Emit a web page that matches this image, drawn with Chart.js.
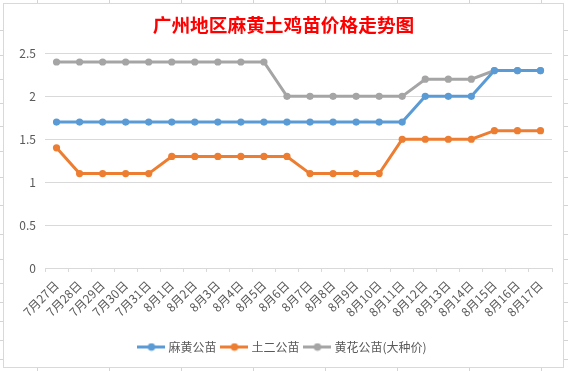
<!DOCTYPE html>
<html>
<head>
<meta charset="utf-8">
<script src="https://cdn.jsdelivr.net/npm/chart.js@4"></script>
<style>
  html, body { margin: 0; padding: 0; background: #fff; }
  body { width: 568px; height: 371px; position: relative; overflow: hidden; }
  .vl { position: absolute; top: 0; width: 1px; height: 371px; background: #d4d4d4; }
  .hl { position: absolute; left: 0; width: 568px; height: 1px; background: #d4d4d4; }
  #box { position: absolute; left: 3px; top: 3px; width: 561px; height: 365px; box-sizing: border-box;
         border: 1px solid #d9d9d9; background: #fff; }
  #box canvas { display: block; }
</style>
</head>
<body>
<div id="box"><canvas id="c" width="559" height="363"></canvas></div>
<script>
const categories = ["7月27日","7月28日","7月29日","7月30日","7月31日","8月1日","8月2日","8月3日","8月4日","8月5日","8月6日","8月7日","8月8日","8月9日","8月10日","8月11日","8月12日","8月13日","8月14日","8月15日","8月16日","8月17日"];
const mahuangValues = [1.7,1.7,1.7,1.7,1.7,1.7,1.7,1.7,1.7,1.7,1.7,1.7,1.7,1.7,1.7,1.7,2.0,2.0,2.0,2.3,2.3,2.3];
const tuerValues    = [1.4,1.1,1.1,1.1,1.1,1.3,1.3,1.3,1.3,1.3,1.3,1.1,1.1,1.1,1.1,1.5,1.5,1.5,1.5,1.6,1.6,1.6];
const huangValues   = [2.4,2.4,2.4,2.4,2.4,2.4,2.4,2.4,2.4,2.4,2.0,2.0,2.0,2.0,2.0,2.0,2.2,2.2,2.2,2.3,2.3,2.3];
const seriesNames = ["麻黄公苗","土二公苗","黄花公苗(大种价)"];
const yTickLabels = ["0","0.5","1","1.5","2","2.5"];
const titleText = "广州地区麻黄土鸡苗价格走势图";

// spreadsheet grid decoration behind the chart
const colLines = [37, 109, 181, 253, 325, 397, 469, 541];
const rowLines = [30, 55, 79, 103, 126, 151, 177, 205, 234, 259, 283, 302, 321, 340, 359];
colLines.forEach(x => { const d = document.createElement('div'); d.className = 'vl'; d.style.left = x + 'px'; document.body.insertBefore(d, document.body.firstChild); });
rowLines.forEach(y => { const d = document.createElement('div'); d.className = 'hl'; d.style.top = y + 'px'; document.body.insertBefore(d, document.body.firstChild); });

const colors = ['#5B9BD5', '#ED7D31', '#A5A5A5'];

function legendIcon(color) {
  const cv = document.createElement('canvas');
  cv.width = 28; cv.height = 9;
  const g = cv.getContext('2d');
  g.strokeStyle = color; g.lineWidth = 3;
  g.beginPath(); g.moveTo(0, 4.5); g.lineTo(28, 4.5); g.stroke();
  g.fillStyle = color;
  g.beginPath(); g.arc(14, 4.5, 3.8, 0, Math.PI * 2); g.fill();
  return cv;
}

const valueSets = [mahuangValues, tuerValues, huangValues];
const datasets = valueSets.map((vals, i) => ({
  label: seriesNames[i],
  data: vals,
  borderColor: colors[i],
  backgroundColor: colors[i],
  borderWidth: 3,
  pointRadius: 3.6,
  pointBorderWidth: 0,
  pointBackgroundColor: colors[i],
  pointStyle: 'circle',
  tension: 0,
  fill: false
}));
const icons = colors.map(legendIcon);

const FONT = "'Noto Sans CJK SC', 'Noto Sans', sans-serif";

new Chart(document.getElementById('c'), {
  type: 'line',
  data: { labels: categories, datasets },
  options: {
    responsive: false,
    animation: false,
    devicePixelRatio: 1,
    layout: { padding: { left: 0, right: 0, top: 0, bottom: 4 } },
    plugins: {
      title: {
        display: true,
        text: titleText,
        color: '#FF0000',
        font: { family: FONT, size: 18.7, weight: 'bold' },
        padding: { top: 10, bottom: 17 }
      },
      legend: {
        display: true,
        position: 'bottom',
        labels: {
          color: '#595959',
          font: { family: FONT, size: 12 },
          usePointStyle: true,
          pointStyleWidth: 22,
          boxHeight: 12,
          padding: 7,
          generateLabels: (chart) => chart.data.datasets.map((ds, i) => ({
            text: ds.label,
            fillStyle: colors[i],
            strokeStyle: colors[i],
            lineWidth: 0,
            pointStyle: icons[i],
            hidden: false,
            datasetIndex: i,
            fontColor: '#595959'
          }))
        }
      },
      tooltip: { enabled: false }
    },
    scales: {
      x: {
        type: 'category',
        offset: true,
        grid: { display: true, offset: true, drawOnChartArea: false, drawTicks: true, tickLength: 4, color: '#D9D9D9', lineWidth: 1 },
        border: { display: true, color: '#D9D9D9', width: 1 },
        ticks: {
          color: '#595959',
          font: { family: FONT, size: 12 },
          minRotation: 45, maxRotation: 45,
          autoSkip: false,
          padding: 6
        },
        afterFit: (s) => { s.height = 66; }
      },
      y: {
        min: 0, max: 2.5,
        border: { display: false },
        grid: { color: '#D9D9D9', lineWidth: 1, drawTicks: false },
        ticks: {
          stepSize: 0.5,
          color: '#595959',
          font: { family: FONT, size: 12 },
          padding: 9,
          callback: (v, idx) => yTickLabels[idx]
        },
        afterFit: (s) => { s.width = 41; }
      },
      yPad: {
        position: 'right',
        display: true,
        min: 0, max: 2.5,
        border: { display: false },
        grid: { display: false, drawTicks: false },
        ticks: { display: false },
        afterFit: (s) => { s.width = 11; }
      }
    }
  }
});
</script>
</body>
</html>
